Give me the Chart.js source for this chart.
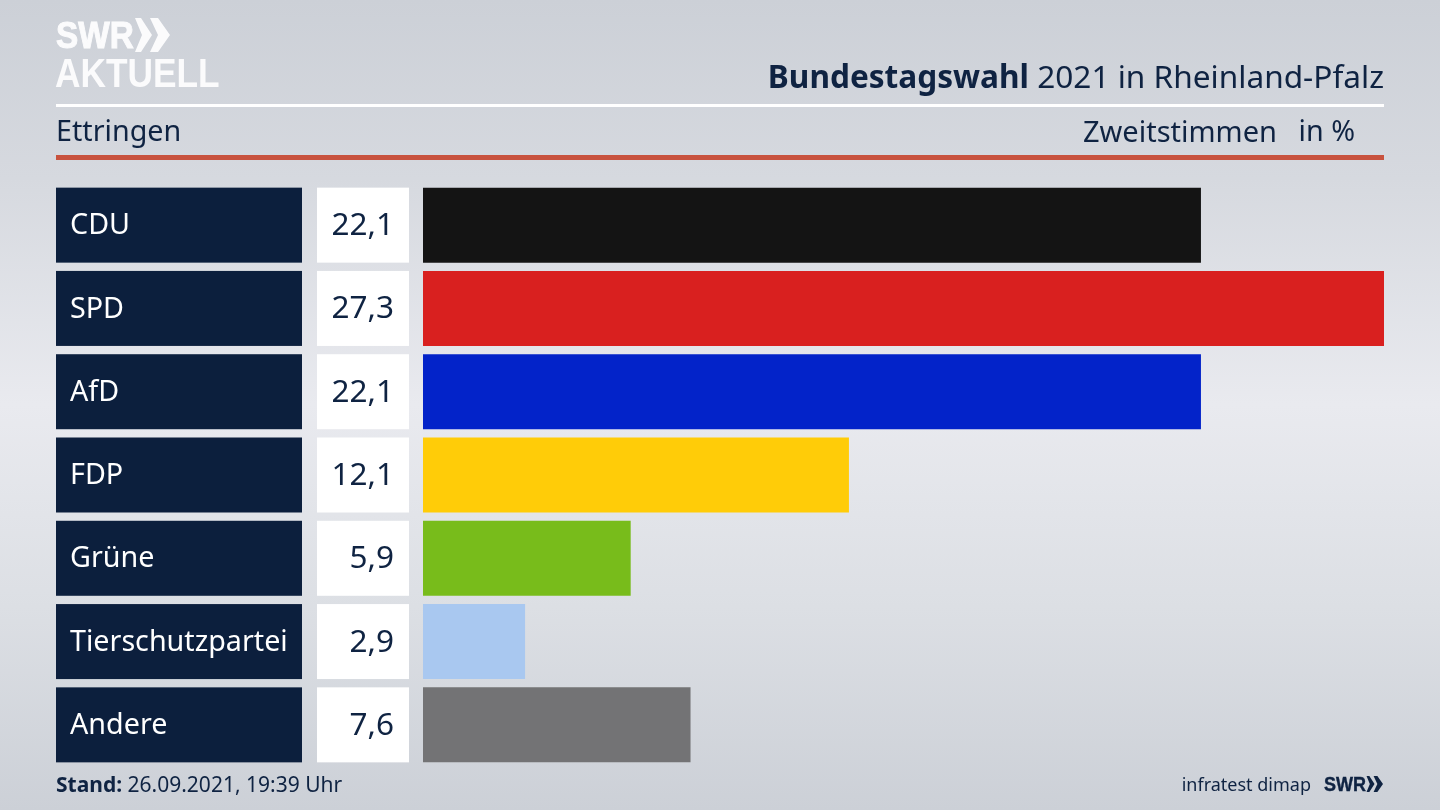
<!DOCTYPE html>
<html lang="de"><head><meta charset="utf-8">
<script src="https://cdn.jsdelivr.net/npm/chart.js@4/dist/chart.umd.min.js"></script>
<style>
html,body{margin:0;padding:0;width:1440px;height:810px;overflow:hidden}
body{position:relative;font-family:"Noto Sans",sans-serif;color:#0f2342;
background:linear-gradient(180deg,#ccd0d7 0%,#d6d9df 22%,#e9eaef 50%,#dcdfe4 75%,#ccd0d7 100%)}
#chart{position:absolute;left:0;top:0;width:1440px;height:810px}
.t{position:absolute;white-space:nowrap;line-height:1}
.rule{position:absolute;left:56px;width:1328px}
</style></head><body>
<canvas id="chart" width="1440" height="810"></canvas>
<div class="t" style="left:56px;top:17px;font:900 37px/1 'Liberation Sans',sans-serif;color:#fbfbfc;-webkit-text-stroke:1px #fbfbfc;transform:scaleX(.9);transform-origin:0 0">SWR</div>
<svg style="position:absolute;left:135px;top:18px" width="36" height="34" viewBox="0 0 36 34"><path fill="#fbfbfc" d="M0 0h6l11 17L6 34H0l7-17zM15 0h8l12 17-12 17h-8l8-17z"/></svg>
<div class="t" style="left:55px;top:53px;font:700 41px/1 'Liberation Sans',sans-serif;color:#fbfbfc;transform:scaleX(.86);transform-origin:0 0">AKTUELL</div>
<div class="t" style="right:56px;top:60px;font-size:31.6px"><b>Bundestagswahl</b> 2021 in Rheinland-Pfalz</div>
<div class="rule" style="top:104px;height:3px;background:#fff"></div>
<div class="t" style="left:56px;top:116px;font-size:28.7px">Ettringen</div>
<div class="t" style="right:163px;top:116px;font-size:29px">Zweitstimmen</div>
<div class="t" style="right:85px;top:116px;font-size:28.7px">in %</div>
<div class="rule" style="top:155px;height:5px;background:#c8523e"></div>
<div class="t" style="left:56px;top:774px;font-size:21px"><b>Stand:</b> 26.09.2021, 19:39 Uhr</div>
<div class="t" style="right:129px;top:775px;font-size:18px">infratest dimap</div>
<div class="t" style="left:1324px;top:774px;font:900 20px/1 'Liberation Sans',sans-serif;-webkit-text-stroke:.4px #0f2342;transform:scaleX(.9);transform-origin:0 0">SWR</div>
<svg style="position:absolute;left:1366px;top:776px" width="18" height="16" viewBox="0 0 36 34"><path fill="#0f2342" d="M0 0h6l11 17L6 34H0l7-17zM15 0h8l12 17-12 17h-8l8-17z"/></svg>
<script>
const categories = ["CDU","SPD","AfD","FDP","Grüne","Tierschutzpartei","Andere"];
const values = [22.1,27.3,22.1,12.1,5.9,2.9,7.6];
const valueLabels = ["22,1","27,3","22,1","12,1","5,9","2,9","7,6"];
const barColors = ["#141414","#d9201f","#0323c9","#ffcc08","#78bc1b","#a9c8f0","#737375"];
const FONT = '"Noto Sans", sans-serif';
const panels = {
  id:'panels',
  beforeDraw(c){
    const g=c.ctx, y=c.scales.y, h=75;
    categories.forEach((_,i)=>{
      const p=y.getPixelForValue(i);
      g.fillStyle='#0c1f3d'; g.fillRect(56,p-h/2,246,h);
      g.fillStyle='#ffffff'; g.fillRect(317,p-h/2,92,h);
    });
  },
  afterDraw(c){
    const g=c.ctx, y=c.scales.y;
    g.save(); g.fillStyle='#0f2342'; g.font='31.5px '+FONT; g.textAlign='right'; g.textBaseline='middle';
    valueLabels.forEach((s,i)=>g.fillText(s,394,y.getPixelForValue(i)+1));
    g.restore();
  }
};
new Chart(document.getElementById('chart'),{
  type:'bar',
  data:{labels:categories,datasets:[{data:values,backgroundColor:barColors,borderWidth:0,barPercentage:75/83.25,categoryPercentage:1}]},
  plugins:[panels],
  options:{
    indexAxis:'y',responsive:false,animation:false,devicePixelRatio:1,
    layout:{padding:{left:70,right:56,top:183.5,bottom:43.5}},
    plugins:{legend:{display:false},tooltip:{enabled:false},title:{display:false}},
    scales:{
      x:{display:false,min:0,max:27.3},
      y:{grid:{display:false},border:{display:false},
        afterFit(a){a.width=353},
        ticks:{crossAlign:'far',color:'#ffffff',padding:0,autoSkip:false,labelOffset:1,font:{family:FONT,size:28.7}}}
    }
  }
});
</script>
</body></html>
